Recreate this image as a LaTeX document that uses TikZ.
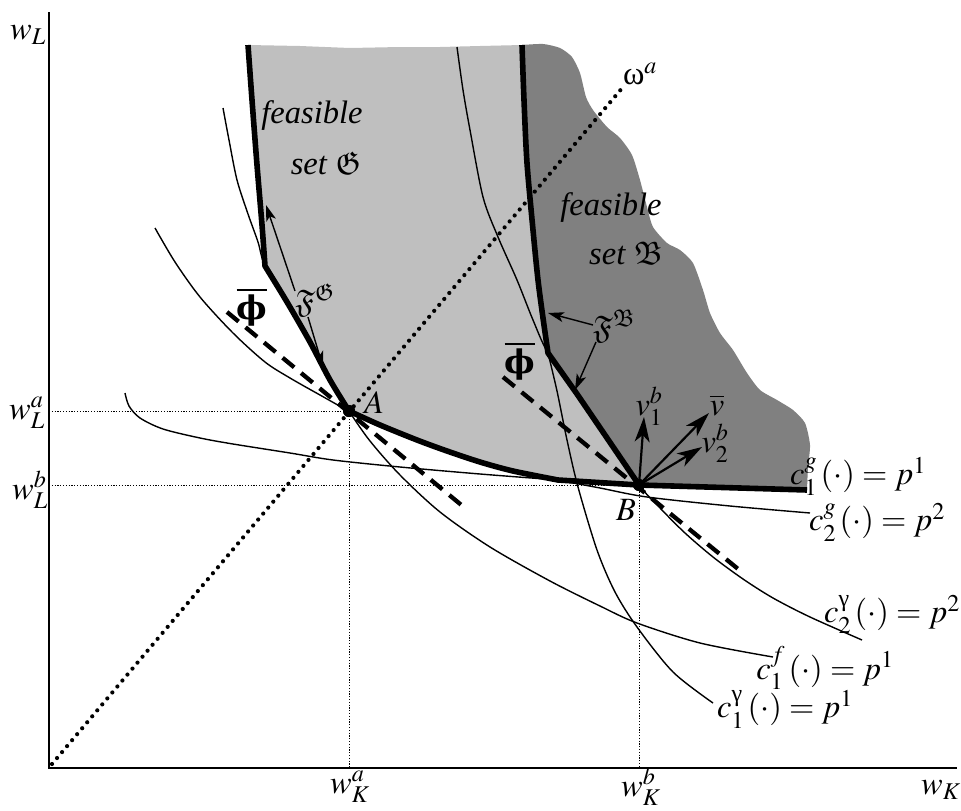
\documentclass[tikz,border=0pt]{standalone}
\usepackage{amsmath}
\usepackage{amssymb}
\usepackage{mathptmx}
\usepackage{fontspec}
\setmainfont{Liberation Serif}
\newfontfamily\grfont{DejaVu Serif}
\usetikzlibrary{arrows.meta}
\definecolor{lightfill}{gray}{0.75}
\definecolor{darkfill}{gray}{0.5}
\newcommand{\bphi}{\overline{\text{\grfont\bfseries ϕ}}}
\begin{document}
\begin{tikzpicture}[x=1pt,y=-1pt,
  thincurve/.style={line width=1.4pt},
  frontier/.style={line width=5.6pt,line join=round},
  dashline/.style={line width=4.3pt,dash pattern=on 15pt off 9pt},
  guide/.style={line width=1pt,dash pattern=on 1.2pt off 1.6pt},
  rayline/.style={line width=4.2pt,dash pattern=on 0pt off 7.8pt,line cap=round},
  axisline/.style={line width=2.4pt},
  lbl/.style={inner sep=0pt,font=\fontsize{32.5}{39}\selectfont},
  farrow/.style={line width=1.4pt,-{Stealth[length=16pt,width=10pt,inset=4pt]}},
  varrow/.style={line width=2.2pt,-{Stealth[length=25pt,width=15pt,inset=7pt]}},
  dot/.style={circle,fill=black,inner sep=0pt,minimum size=12pt}]
\useasboundingbox (0,0) rectangle (961,811);

% ---------- regions ----------
\fill[lightfill] plot[smooth] coordinates {(248,45) (252,100) (257,165) (262,225) (265,266)}
 -- plot[smooth] coordinates {(265,266) (287,302) (310,342) (330,380) (349,411)}
 -- plot[smooth] coordinates {(349,411) (380,425) (417,440) (447,451) (480,462) (513,471) (558,480)}
 -- (639,485) -- (607,438) -- (577,394) -- (548,353)
 -- plot[smooth] coordinates {(548,353) (543,318) (538,280) (533,230) (527,163) (524,100) (522,45)}
 -- (480,46) -- (440,47) -- (400,47) -- (350,48) -- (300,46) -- (248,45) -- cycle;
\fill[darkfill] plot[smooth] coordinates {(522,45) (524,100) (527,163) (533,230) (538,280) (543,318) (548,353)}
 -- (577,394) -- (607,438) -- (639,485) -- (807,490)
 -- plot[smooth,tension=0.4] coordinates {(807,490) (808,467) (810,445) (805,423) (793,410) (777,400) (760,390) (747,373) (733,350) (720,333) (710,313) (703,290) (693,263) (680,250) (667,243) (653,227) (647,207) (640,180) (632,155) (620,138) (607,127) (593,110) (586,97) (580,73) (572,57) (560,48) (543,44) (522,45)}
 -- cycle;

% ---------- axes and guides ----------
\coordinate (O) at (49,768);
\coordinate (Ytop) at (49,12);
\coordinate (Xend) at (957,768);
\draw[axisline] (Ytop) -- (O) -- (Xend);

\node[dot] (A) at (349,411) {};
\node[dot] (B) at (639,485) {};
\coordinate (LA) at (49,411);
\coordinate (LB) at (49,485);
\coordinate (KA) at (349,768);
\coordinate (KB) at (639,768);
\draw[guide] (LA) -- (A.center) -- (KA);
\draw[guide] (LB) -- (B.center) -- (KB);

\coordinate (R0) at (52,764);
\coordinate (Rend) at (623,87);
\draw[rayline] (R0) -- (Rend);

% ---------- thin curves ----------
% c_1^f
\draw[thincurve] plot[smooth] coordinates {(223,108) (229,140) (237,180) (248,214) (258,242) (265,266) (287,302) (310,342) (330,380) (349,411) (370,441) (400,475) (440,512) (490,547) (550,581) (600,606) (637,623) (700,643) (773,657)};
% c_2^g
\draw[thincurve] plot[smooth] coordinates {(155,228) (175,262) (200,297) (233,333) (265,362) (290,378) (320,395) (349,411) (380,425) (417,440) (447,451) (480,462) (513,471) (558,480) (600,488) (647,497) (730,506) (810,513)};
% c_1^g
\draw[thincurve] plot[smooth] coordinates {(125,393) (129,406) (140,418) (163,429) (200,438) (233,444) (290,453) (333,460) (400,467) (480,474) (558,480)};
% c_2^gamma
\draw[thincurve] plot[smooth] coordinates {(457,47) (463,90) (470,130) (483,197) (498,237) (517,280) (533,320) (548,353) (577,394) (607,438) (639,485) (660,508) (685,533) (713,557) (743,579) (773,598) (810,617) (862,640)};
% c_1^gamma
\draw[thincurve] plot[smooth] coordinates {(548,353) (557,391) (567,440) (578,487) (597,550) (615,592) (637,627) (673,672) (713,703)};

% ---------- dashed supporting lines ----------
\coordinate (dA1) at (227,312);
\coordinate (dA2) at (465,508);
\coordinate (dB1) at (503,377);
\coordinate (dB2) at (743,573);
\draw[dashline] (dA1) -- (dA2);
\draw[dashline] (dB1) -- (dB2);

% ---------- frontiers ----------
\draw[frontier] plot[smooth] coordinates {(248,45) (252,100) (257,165) (262,225) (265,266)}
 -- plot[smooth] coordinates {(265,266) (287,302) (310,342) (330,380) (349,411)}
 -- plot[smooth] coordinates {(349,411) (380,425) (417,440) (447,451) (480,462) (513,471) (558,480)}
 -- (639,485) -- (807,490);
\draw[frontier] plot[smooth] coordinates {(522,45) (524,100) (527,163) (533,230) (538,280) (543,318) (548,353)}
 -- (577,394) -- (607,438) -- (639,485);

\node[dot] at (A) {};
\node[dot] at (B) {};

% ---------- labels ----------
\node[lbl] (wL) at (28,35) {$w_L$};
\node[lbl] (wLa) at (27,413) {$w_L^a$};
\node[lbl] (wLb) at (30,490) {$w_L^b$};
\node[lbl] (wKa) at (350,787) {$w_K^a$};
\node[lbl] (wKb) at (641,787) {$w_K^b$};
\node[lbl] (wK) at (941,790) {$w_K$};
\node[lbl] (labA) at (374,403) {$A$};
\node[lbl] (labB) at (626,510) {$B$};
\node[lbl] (phiA) at (252,307) {$\bphi$};
\node[lbl] (phiB) at (520,361) {$\bphi$};
\node[lbl] (omega) at (640,74) {ω$^a$};
\node[lbl] (feasG) at (312,116) {\itshape feasible};
\node[lbl] (setG) at (326,163) {\textit{set} $\mathfrak{G}$};
\node[lbl] (feasB) at (611,208) {\itshape feasible};
\node[lbl] (setB) at (626,253) {\textit{set} $\mathfrak{B}$};
\node[lbl] (FG) at (315,300) {$\mathfrak{F}^{\mathfrak{G}}$};
\node[lbl] (FB) at (614,326) {$\mathfrak{F}^{\mathfrak{B}}$};
\node[lbl] (v1) at (649,406) {$v_1^b$};
\node[lbl] (vbar) at (717,405) {$\overline{v}$};
\node[lbl] (v2) at (715,443) {$v_2^b$};
\node[lbl] (cg1) at (858,476) {$c_1^g\,(\cdot) = p^1$};
\node[lbl] (cg2) at (877,522) {$c_2^g\,(\cdot) = p^2$};
\node[lbl] (cgam2) at (892,614) {$c_2^{\text{γ}}\,(\cdot) = p^2$};
\node[lbl] (cf1) at (825,668) {$c_1^f\,(\cdot) = p^1$};
\node[lbl] (cgam1) at (785,709) {$c_1^{\text{γ}}\,(\cdot) = p^1$};

% ---------- arrows ----------
\coordinate (FGs1) at (295,291);
\coordinate (FGt1) at (266,205);
\coordinate (FGs2) at (308,317);
\coordinate (FGt2) at (323,367);
\draw[farrow] (FGs1) -- (FGt1);
\draw[farrow] (FGs2) -- (FGt2);
\coordinate (FBs1) at (593,325);
\coordinate (FBt1) at (548,313);
\coordinate (FBs2) at (596,342);
\coordinate (FBt2) at (575,390);
\draw[farrow] (FBs1) -- (FBt1);
\draw[farrow] (FBs2) -- (FBt2);
\coordinate (v1t) at (644,417);
\coordinate (vbt) at (709,413);
\coordinate (v2t) at (702,447);
\draw[varrow] (B.center) -- (v1t);
\draw[varrow] (B.center) -- (vbt);
\draw[varrow] (B.center) -- (v2t);
\end{tikzpicture}
\end{document}
